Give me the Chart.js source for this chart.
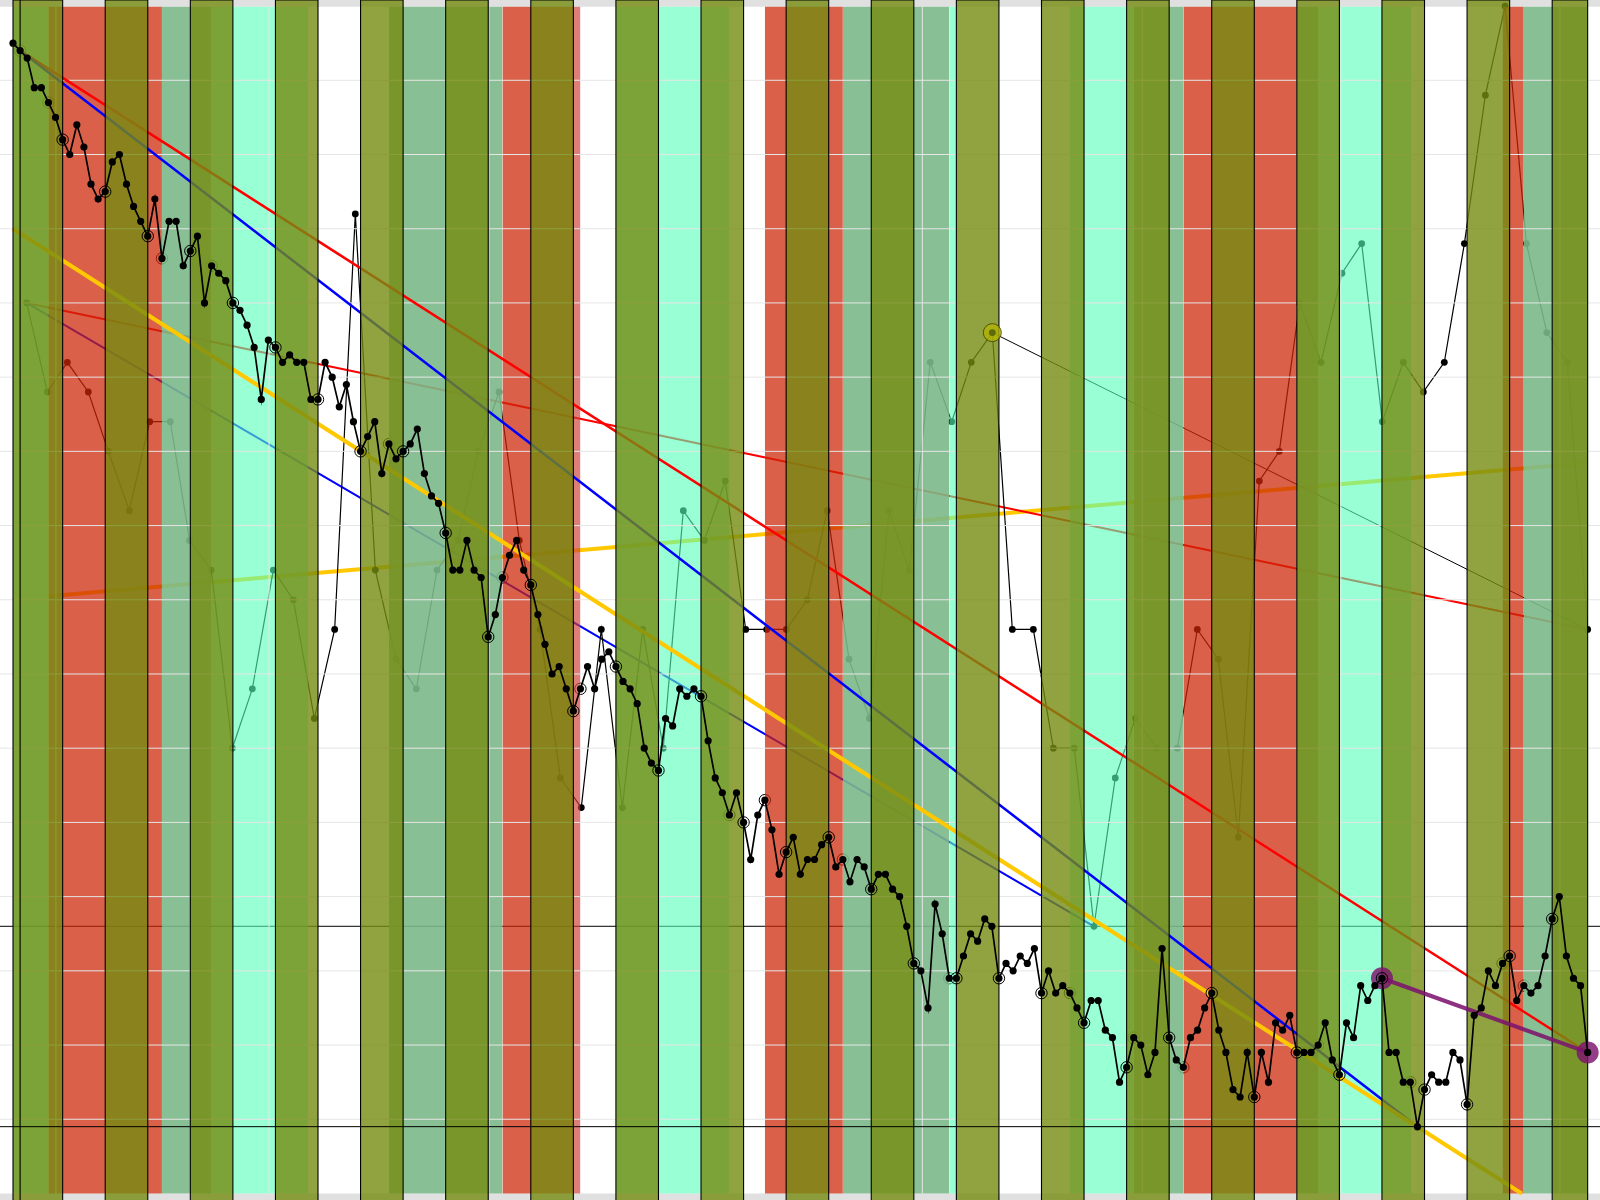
<!DOCTYPE html>
<html lang="en">
<head>
    <meta charset="UTF-8">
    <title>Price channel</title>
    <script src="https://cdn.jsdelivr.net/npm/chart.js"></script>
    <style>
        html, body { margin: 0; padding: 0; background: #ffffff; }
        #chartContainer { width: 1600px; height: 1200px; }
    </style>
</head>
<body>
<div id="chartContainer"><canvas id="priceChart" width="1600" height="1200"></canvas></div>
<script>
    // Scale limits of the whole canvas (no axes drawn, plot runs edge to edge)
    const xMin = -1.833, xMax = 223.74;
    const yMin = -0.88, yMax = 160.82;
    const plotBottom = 0, plotTop = 159.9;

    // Main series, one value per index 0..222
    const closeValues = [155,154,153,149,149,147,145,142,140,144,141,136,134,135,139,140,136,133,131,129,
        134,126,131,131,125,127,129,120,125,124,123,120,119,117,114,107,115,114,112,113,
        112,112,107,107,112,110,106,109,104,100,102,104,97,101,99,100,101,103,97,94,
        93,89,84,84,88,84,83,75,78,83,86,88,84,82,78,74,70,71,68,65,
        68,71,68,72,73,71,69,68,66,60,58,57,64,63,68,67,68,67,61,56,
        54,51,54,50,45,51,53,49,43,46,48,43,45,45,47,48,44,45,42,45,
        44,41,43,43,41,40,36,31,30,25,39,35,29,29,32,35,34,37,36,29,
        31,30,32,31,33,27,30,27,28,27,25,23,26,26,22,21,15,17,21,20,
        16,19,33,21,18,17,21,22,25,27,22,19,14,13,19,13,19,15,23,22,
        24,19,19,19,20,23,18,16,23,21,28,26,28,29,19,19,15,15,9,14,
        16,15,15,19,18,12,24,25,30,28,31,32,26,28,27,28,32,37,40,32,
        29,28,19];

    // Slower series that sits underneath the coloured bands
    const slowX = [1.93,4.84,7.66,10.62,13.44,16.4,19.27,22.18,24.9,27.96,30.92,33.74,36.7,39.52,42.48,45.35,
        48.26,51.08,54,56.86,59.78,62.78,65.6,68.52,71.38,74.3,77.16,80.12,82.94,85.9,88.78,91.68,
        94.5,97.46,100.42,103.3,106.26,109.03,111.97,114.8,117.86,120.74,123.5,126.36,129.32,132.34,135.1,138.07,
        140.89,143.85,146.67,149.63,152.4,155.4,158.23,161.19,164.15,166.97,169.93,172.75,175.71,178.53,181.4,184.4,
        187.36,190.14,193.05,196.01,198.83,201.79,204.62,207.58,210.36,213.37,216.24,219.14,222];
    const slowValues = [120,108,112,108,100,92,104,104,88,84,60,68,84,80,64,76,
        132,84,72,68,84,88,100,108,88,76,56,52,76,52,76,60,
        92,88,96,76,76,76,80,92,72,64,92,84,112,104,112,116,
        76,76,60,60,36,56,64,60,60,76,72,48,96,100,120,112,
        124,128,104,112,108,112,128,148,160,128,116,112,76];

    // Trend lines: [x0, x1], [y0, y1]
    const redSteepX = [1, 222], redSteepY = [154, 19];
    const blueSteepX = [1, 198], blueSteepY = [154, 9];
    const goldSteepX = [0, 212.7], goldSteepY = [130, 0];
    const redShallowX = [1.93, 222], redShallowY = [120, 76];
    const blueLowerX = [1.93, 152.4], blueLowerY = [120, 36];
    const goldRisingX = [5, 222], goldRisingY = [80.47, 98.47];
    const thinBlackX = [138.07, 222], thinBlackY = [116, 76];
    const purpleX = [193, 222], purpleY = [29, 19];

    // Horizontal reference lines and grid
    const levelUnder = 36, levelOver = 9;
    const gridValues = [10,20,30,40,50,60,70,80,90,100,110,120,130,140,150];
    const gridIndexes = [6.05,36.1,67.1,97.1,128.2,159.2,187.2,218.1];

    // Background bands
    const redBands = [[5,21],[69,79],[106,117],[165,181],[210,213]];
    const paleRedBands = [[79,80]];
    const mintBands = [[0,5],[28,41.6],[85,101],[132,133],[149,158],[184,197.1]];
    const mutedBands = [[21,28],[53,69],[117,132],[158,165],[181,184],[213,222]];

    // Olive bands that sit over everything but the main series
    const oliveBands = [[0,7],[13,19],[25,31],[37,43],[49,55],[61,67],[73,79],[85,91],[97,103],[109,115],
        [121,127],[133,139],[145,151],[157,163],[169,175],[181,187],[193,199],[205,211],[217,222]];
    const extraEdges = [1];

    // Rings on the main series
    const ringsUnder = [1,5,21,28,53,69,80,101,106,117,132,149,158,165,184,197,210,213];
    const ringsOver = [7,13,19,25,31,37,43,49,55,61,67,73,79,85,91,97,103,109,115,121,127,133,139,145,151,157,
        163,169,175,181,187,193,199,205,211,217];

    const gridColor = '#e6e6e6';
    const datasets = [];

    function add(ds) {
        // later additions are painted on top
        datasets.push(Object.assign({ showLine: true, pointRadius: 0, borderWidth: 0, tension: 0, fill: false }, ds));
    }
    function xy(xs, ys) {
        return xs.map((x, i) => ({ x: x, y: ys[i] }));
    }
    function trend(xs, ys, color, width) {
        add({ data: xy(xs, ys), borderColor: color, borderWidth: width });
    }
    function band(range, top, bottom, color) {
        add({ data: [{ x: range[0], y: top }, { x: range[1], y: top }], fill: { value: bottom }, backgroundColor: color });
    }

    // Grey strips above and below the plot
    band([xMin, xMax], yMax, plotTop, '#e0e0e0');
    band([xMin, xMax], plotBottom, yMin, '#e0e0e0');

    // Things hidden behind the band colours
    trend([xMin, xMax], [levelUnder, levelUnder], '#000000', 1);
    trend(goldRisingX, goldRisingY, '#ffc800', 4);
    trend(redShallowX, redShallowY, '#ff0000', 2);
    trend(blueLowerX, blueLowerY, '#0000ff', 2);
    trend(thinBlackX, thinBlackY, '#000000', 1);
    add({ data: xy(slowX, slowValues), borderColor: '#000000', borderWidth: 1.2, pointRadius: 3.4, pointBackgroundColor: '#000000', pointBorderWidth: 0 });
    add({ data: ringsUnder.map(i => ({ x: i, y: closeValues[i] })), showLine: false, pointRadius: 5.7,
        pointBackgroundColor: 'rgba(0,0,0,0)', pointBorderColor: '#000000', pointBorderWidth: 1 });

    // Translucent bands
    mintBands.forEach(r => band(r, plotTop, plotBottom, 'rgba(88,255,185,0.61)'));
    mutedBands.forEach(r => band(r, plotTop, plotBottom, 'rgba(124,184,136,0.9)'));
    redBands.forEach(r => band(r, plotTop, plotBottom, 'rgba(204,37,7,0.73)'));
    paleRedBands.forEach(r => band(r, plotTop, plotBottom, 'rgba(204,60,50,0.66)'));

    // Grid, built from the tick lists so it can sit between the layers
    const gridPoints = [];
    gridValues.forEach(v => gridPoints.push({ x: xMin, y: v }, { x: xMax, y: v }, { x: xMax, y: null }));
    gridIndexes.forEach(i => gridPoints.push({ x: i, y: plotBottom }, { x: i, y: plotTop }, { x: i, y: null }));
    add({ data: gridPoints, borderColor: gridColor, borderWidth: 1 });

    // Steep channel lines
    trend(redSteepX, redSteepY, '#ff0000', 2.5);
    trend(blueSteepX, blueSteepY, '#0000ff', 2.5);
    trend(goldSteepX, goldSteepY, '#ffc800', 4);

    // Olive bands with black outline
    oliveBands.forEach(r => band(r, yMax, yMin, 'rgba(118,140,17,0.8)'));
    const edgePoints = [];
    oliveBands.forEach(r => edgePoints.push({ x: r[0], y: yMin }, { x: r[0], y: yMax }, { x: r[1], y: yMax }, { x: r[1], y: yMin }, { x: r[1], y: null }));
    extraEdges.forEach(i => edgePoints.push({ x: i, y: yMin }, { x: i, y: yMax }, { x: i, y: null }));
    add({ data: edgePoints, borderColor: '#000000', borderWidth: 1.1 });

    // Top layer
    trend([xMin, xMax], [levelOver, levelOver], '#000000', 1);
    add({ data: xy(purpleX, purpleY), borderColor: 'rgba(125,20,110,0.88)', borderWidth: 4, pointRadius: 11,
        pointBackgroundColor: 'rgba(125,20,110,0.82)', pointBorderWidth: 0 });
    add({ data: [{ x: slowX[47], y: slowValues[47] }], showLine: false, pointRadius: 9,
        pointBackgroundColor: 'rgba(180,180,0,0.75)', pointBorderColor: 'rgba(60,60,0,0.8)', pointBorderWidth: 1 });
    add({ data: [{ x: slowX[47], y: slowValues[47] }], showLine: false, pointRadius: 3.4,
        pointBackgroundColor: '#5f6a0a', pointBorderWidth: 0 });
    add({ data: ringsOver.map(i => ({ x: i, y: closeValues[i] })), showLine: false, pointRadius: 5.7,
        pointBackgroundColor: 'rgba(0,0,0,0)', pointBorderColor: '#000000', pointBorderWidth: 1 });
    add({ data: closeValues.map((v, i) => ({ x: i, y: v })), borderColor: '#000000', borderWidth: 1.7,
        pointRadius: 3.6, pointBackgroundColor: '#000000', pointBorderWidth: 0 });

    datasets.forEach((ds, i) => { ds.order = -i; });

    new Chart(document.getElementById('priceChart').getContext('2d'), {
        type: 'scatter',
        data: { datasets: datasets },
        options: {
            responsive: false,
            animation: false,
            events: [],
            layout: { padding: 0, autoPadding: false },
            plugins: { legend: { display: false }, tooltip: { enabled: false }, title: { display: false } },
            scales: {
                x: { type: 'linear', min: xMin, max: xMax, display: false },
                y: { type: 'linear', min: yMin, max: yMax, display: false }
            }
        }
    });
</script>
</body>
</html>
